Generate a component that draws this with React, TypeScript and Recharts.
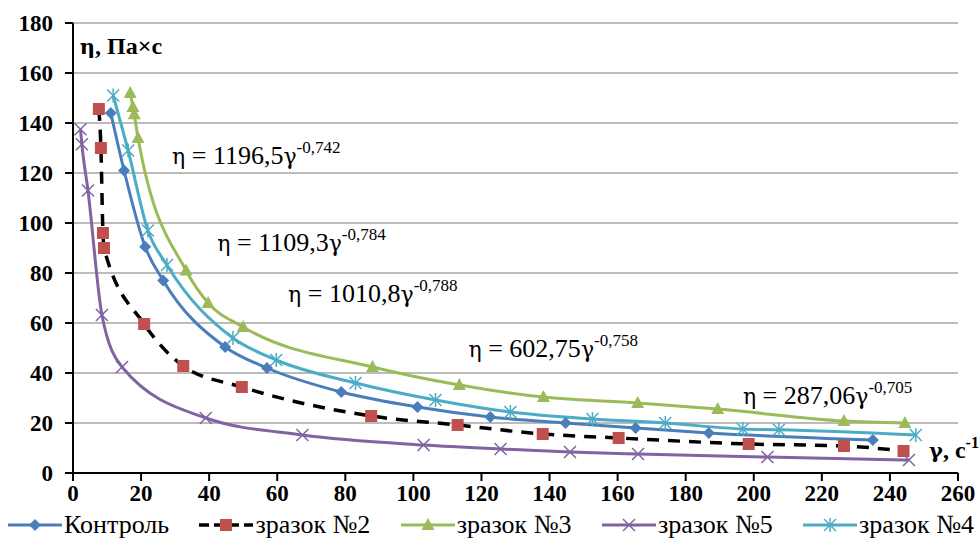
import React from "react";
import {
  LineChart,
  Line,
  XAxis,
  YAxis,
  CartesianGrid,
  Legend,
  ReferenceDot,
} from "recharts";

// shear rate (γ, c^-1) and viscosity (η, Па×с)
const controlShear = [11.1, 15, 21.2, 26.5, 44.7, 57, 78.8, 101.2, 122.6, 144.7, 165.3, 186.8, 235];
const controlVisc = [144, 121, 90.5, 77, 50.4, 42, 32.4, 26.4, 22.4, 20, 18, 16, 13.2];

const sample2Shear = [7.6, 8.2, 8.8, 9.1, 20.9, 32.4, 49.6, 87.6, 113, 138, 160.3, 198.5, 226.5, 244];
const sample2Visc = [145.6, 130, 96, 90, 59.6, 42.8, 34.4, 22.8, 19.2, 15.6, 14, 11.6, 10.8, 8.8];

const sample3Shear = [16.8, 17.6, 18, 19.1, 33.2, 39.7, 50, 88, 113.5, 138.2, 165.9, 189.4, 226.5, 244.4];
const sample3Visc = [152, 146.4, 143.5, 134, 81, 68, 58.4, 42.4, 35.2, 30.4, 28, 25.6, 20.8, 20];

const sample5Shear = [2.2, 2.6, 4.4, 8.5, 14.4, 39, 67.4, 103, 125.6, 146, 166, 204, 245.6];
const sample5Visc = [137.5, 131.5, 113, 63.2, 42.4, 22, 15.2, 11.2, 9.6, 8.4, 7.6, 6.4, 5.2];

const sample4Shear = [11.8, 16.2, 22, 27.6, 47, 59.7, 83, 106.5, 128.5, 152.6, 174, 196.8, 207.4, 247.6];
const sample4Visc = [151, 129, 97, 83.2, 54, 45.2, 36, 29.2, 24.4, 21.6, 20, 17.6, 17.3, 15.2];

const xTicks = [0, 20, 40, 60, 80, 100, 120, 140, 160, 180, 200, 220, 240, 260];
const yTicks = [0, 20, 40, 60, 80, 100, 120, 140, 160, 180];

// power-law fits printed on the chart: anchor x, anchor y, coefficient, exponent
const fitX = [29.1, 42.4, 63.2, 116.2, 196.8];
const fitY = [127.2, 92.4, 72, 50, 31.2];
const fitCoef = ["1196,5", "1109,3", "1010,8", "602,75", "287,06"];
const fitExp = ["-0,742", "-0,784", "-0,788", "-0,758", "-0,705"];

const SERIF = "'Liberation Serif', 'Times New Roman', serif";
// Liberation Serif has no Greek, so η and γ come from DejaVu Serif
const GREEK = "'DejaVu Serif', serif";

type Pt = { x: number; y: number };
type MarkerKind = "diamond" | "square" | "triangle" | "cross" | "star";

const toPoints = (xs: number[], ys: number[]): Pt[] => xs.map((x, i) => ({ x, y: ys[i] }));

const series: {
  name: string;
  data: Pt[];
  stroke: string;
  dash?: string;
  width: number;
  marker: MarkerKind;
  markerColor: string;
}[] = [
  { name: "Контроль", data: toPoints(controlShear, controlVisc), stroke: "#4A7EBB", width: 3, marker: "diamond", markerColor: "#4A7EBB" },
  { name: "зразок №2", data: toPoints(sample2Shear, sample2Visc), stroke: "#000000", dash: "12 9", width: 3.5, marker: "square", markerColor: "#C0504D" },
  { name: "зразок №3", data: toPoints(sample3Shear, sample3Visc), stroke: "#9BBB59", width: 3, marker: "triangle", markerColor: "#9BBB59" },
  { name: "зразок №5", data: toPoints(sample5Shear, sample5Visc), stroke: "#8064A2", width: 3, marker: "cross", markerColor: "#8064A2" },
  { name: "зразок №4", data: toPoints(sample4Shear, sample4Visc), stroke: "#4BACC6", width: 3, marker: "star", markerColor: "#4BACC6" },
];

function Marker({ kind, cx, cy, color }: { kind: MarkerKind; cx: number; cy: number; color: string }) {
  if (cx == null || cy == null) return null;
  switch (kind) {
    case "diamond":
      return <path d={`M${cx},${cy - 6}L${cx + 6},${cy}L${cx},${cy + 6}L${cx - 6},${cy}Z`} fill={color} />;
    case "square":
      return <rect x={cx - 6} y={cy - 6} width={12} height={12} fill={color} />;
    case "triangle":
      return <path d={`M${cx},${cy - 7}L${cx + 6.5},${cy + 5}L${cx - 6.5},${cy + 5}Z`} fill={color} />;
    case "cross":
      return (
        <g stroke={color} strokeWidth={1.5}>
          <line x1={cx - 6} y1={cy - 6} x2={cx + 6} y2={cy + 6} />
          <line x1={cx - 6} y1={cy + 6} x2={cx + 6} y2={cy - 6} />
        </g>
      );
    default:
      return (
        <g stroke={color} strokeWidth={1.5}>
          <line x1={cx - 6} y1={cy - 6} x2={cx + 6} y2={cy + 6} />
          <line x1={cx - 6} y1={cy + 6} x2={cx + 6} y2={cy - 6} />
          <line x1={cx} y1={cy - 7} x2={cx} y2={cy + 7} />
        </g>
      );
  }
}

const makeDot = (kind: MarkerKind, color: string) => (props: any) => (
  <Marker key={`${kind}-${props.index}`} kind={kind} cx={props.cx} cy={props.cy} color={color} />
);

const fitLabel = (coef: string, exp: string) => (props: any) => {
  const { x, y } = props.viewBox;
  return (
    <text x={x} y={y + 9} style={{ fontFamily: SERIF }} fontSize={26} fill="#000">
      <tspan style={{ fontFamily: GREEK }} fontSize={22}>η</tspan>
      {` = ${coef}`}
      <tspan style={{ fontFamily: GREEK }} fontSize={22}>γ</tspan>
      <tspan dy={-11} fontSize={17}>{exp}</tspan>
    </text>
  );
};

const renderLegend = () => (
  <div
    style={{
      display: "flex",
      justifyContent: "space-between",
      alignItems: "center",
      height: 44,
      width: 980,
      padding: "0 6px 0 8px",
      boxSizing: "border-box",
      fontFamily: SERIF,
      fontSize: 26,
      color: "#000",
    }}
  >
    {series.map((s) => (
      <div key={s.name} style={{ display: "flex", alignItems: "center" }}>
        <svg width={54} height={20} style={{ marginRight: 2 }}>
          <line x1={0} y1={10} x2={54} y2={10} stroke={s.stroke} strokeWidth={s.width} strokeDasharray={s.dash ? "10 5" : undefined} />
          <Marker kind={s.marker} cx={27} cy={10} color={s.markerColor} />
        </svg>
        <span>{s.name}</span>
      </div>
    ))}
  </div>
);

const tickStyle = { fill: "#000", fontFamily: SERIF, fontWeight: "bold", fontSize: 23 };

export default function App() {
  return (
    <div style={{ position: "absolute", left: 0, top: 0, width: 980, height: 547, background: "#fff", fontFamily: SERIF }}>
      <LineChart width={980} height={547} margin={{ top: 23, right: 22, left: 13, bottom: 0 }}>
        <CartesianGrid horizontal vertical={false} stroke="#a6a6a6" strokeWidth={1.5} />
        <XAxis
          type="number"
          dataKey="x"
          domain={[0, 260]}
          ticks={xTicks}
          interval={0}
          height={30}
          tickSize={8}
          tickMargin={4}
          axisLine={{ stroke: "#000", strokeWidth: 2 }}
          tickLine={{ stroke: "#000", strokeWidth: 2 }}
          tick={tickStyle}
        />
        <YAxis
          type="number"
          domain={[0, 180]}
          ticks={yTicks}
          interval={0}
          width={60}
          tickSize={8}
          tickMargin={12}
          axisLine={{ stroke: "#000", strokeWidth: 2 }}
          tickLine={{ stroke: "#000", strokeWidth: 2 }}
          tick={tickStyle}
        />
        {series.map((s) => (
          <Line
            key={s.name}
            data={s.data}
            dataKey="y"
            name={s.name}
            type="monotone"
            stroke={s.stroke}
            strokeWidth={s.width}
            strokeDasharray={s.dash}
            dot={makeDot(s.marker, s.markerColor)}
            activeDot={false}
            isAnimationActive={false}
          />
        ))}
        {fitCoef.map((c, i) => (
          <ReferenceDot
            key={c}
            x={fitX[i]}
            y={fitY[i]}
            r={0}
            fill="none"
            stroke="none"
            ifOverflow="visible"
            label={{ content: fitLabel(c, fitExp[i]) }}
          />
        ))}
        <ReferenceDot
          x={2}
          y={171}
          r={0}
          fill="none"
          stroke="none"
          ifOverflow="visible"
          label={{
            content: (p: any) => (
              <text x={p.viewBox.x} y={p.viewBox.y + 8} style={{ fontFamily: SERIF }} fontWeight="bold" fontSize={24} fill="#000">
                <tspan style={{ fontFamily: GREEK }} fontSize={21}>η</tspan>, Па×с
              </text>
            ),
          }}
        />
        <ReferenceDot
          x={251.5}
          y={9.2}
          r={0}
          fill="none"
          stroke="none"
          ifOverflow="visible"
          label={{
            content: (p: any) => (
              <text x={p.viewBox.x} y={p.viewBox.y + 8} style={{ fontFamily: SERIF }} fontWeight="bold" fontSize={24} fill="#000">
                <tspan style={{ fontFamily: GREEK }} fontSize={21}>γ</tspan>, с<tspan dy={-10} fontSize={16}>-1</tspan>
              </text>
            ),
          }}
        />
        <Legend verticalAlign="bottom" height={44} width={980} wrapperStyle={{ left: 0 }} content={renderLegend} />
      </LineChart>
    </div>
  );
}
